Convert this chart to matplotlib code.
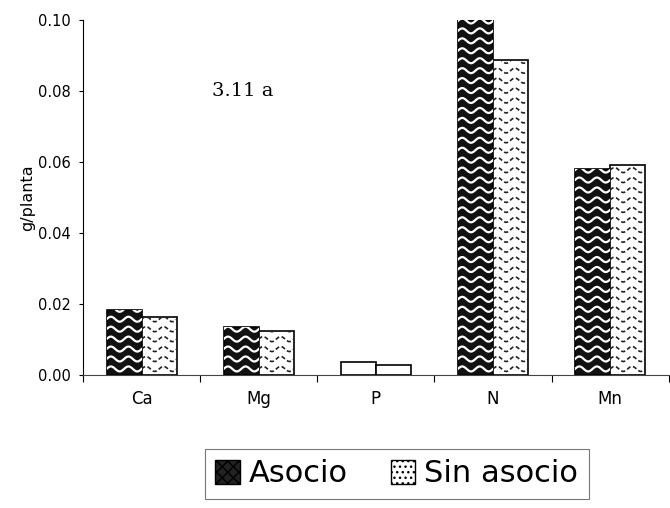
import numpy as np
import matplotlib.pyplot as plt
from matplotlib.patches import Patch

categories = ["Ca", "Mg", "P", "N", "Mn"]
asocio = [0.0183, 0.0135, 0.0035, 0.100, 0.058]
sin_asocio = [0.0163, 0.0125, 0.0029, 0.0887, 0.0592]
yticks = [0.00, 0.02, 0.04, 0.06, 0.08, 0.10]


def waves(ax, bars, color, lw, dashed=False):
    # wavy fill pattern clipped to each bar
    for b in bars:
        x0, w, h = b.get_x(), b.get_width(), b.get_height()
        if h < 0.005:
            continue
        xs = np.linspace(x0, x0 + w, 60)
        step = 0.0028
        y = step * 0.6
        while y < h + step:
            ys = y + 0.0007 * np.sin((xs - x0) / w * 4 * np.pi)
            ln, = ax.plot(xs, ys, color=color, lw=lw,
                          ls=(0, (2.5, 1.5)) if dashed else "-")
            ln.set_clip_path(b)
            y += step


fig = plt.figure(figsize=(6.7, 5.08), dpi=100)
ax = fig.add_axes([0.124, 0.262, 0.874, 0.699])

x = np.arange(len(categories))
width = 0.3
# very short bars show no pattern in the original, only a white box
fills = ["#111111" if v > 0.005 else "white" for v in asocio]
b1 = ax.bar(x - width / 2, asocio, width, color=fills, edgecolor="black", lw=1.2)
b2 = ax.bar(x + width / 2, sin_asocio, width, color="white", edgecolor="black", lw=1.2)
waves(ax, b1, "white", 1.6)
waves(ax, b2, "#222222", 1.2, dashed=True)

ax.set_xlim(-0.5, len(categories) - 0.5)
ax.set_ylim(0, 0.10)
ax.set_yticks(yticks)
ax.set_yticklabels([f"{t:.2f}" for t in yticks], fontsize=10.5)
ax.set_xticks(np.arange(len(categories) + 1) - 0.5)
ax.set_xticklabels([])
ax.set_xticks(x, minor=True)
ax.set_xticklabels(categories, minor=True, fontsize=12)
ax.tick_params(axis="x", which="minor", length=0, pad=11)
ax.tick_params(axis="x", which="major", length=5, direction="out")
ax.tick_params(axis="y", length=3, direction="out", pad=6)
for s in ["top", "right"]:
    ax.spines[s].set_visible(False)
ax.spines["bottom"].set_color("#444444")
ax.set_ylabel("g/planta", fontsize=11.5, labelpad=2)

ax.text(0.6, 0.08, "3.11 a", fontsize=14, family="DejaVu Serif", va="center")

handles = [
    Patch(facecolor="#222222", edgecolor="black", hatch="xxx"),
    Patch(facecolor="white", edgecolor="black", hatch="..."),
]
leg = fig.legend(handles, ["Asocio", "Sin asocio"], loc="center",
                 bbox_to_anchor=(0.592, 0.067), ncol=2, fontsize=22,
                 frameon=True, fancybox=False, edgecolor="#555555",
                 handlelength=0.8, handleheight=0.8, handletextpad=0.3,
                 columnspacing=1.4, borderpad=0.35)
leg.get_frame().set_linewidth(0.8)

fig.savefig("out.png", dpi=100)
